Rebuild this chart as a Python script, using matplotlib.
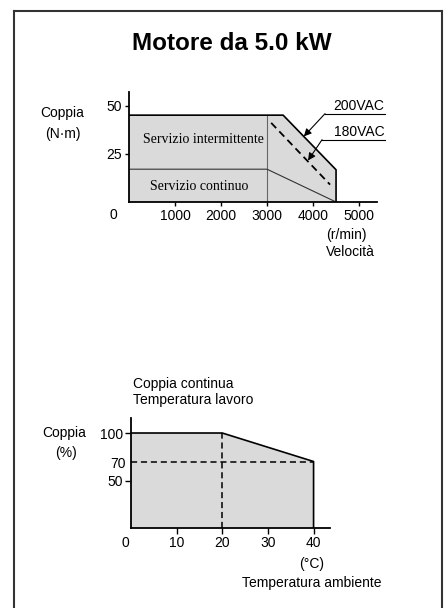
import matplotlib
matplotlib.use("Agg")
import matplotlib.pyplot as plt
from matplotlib.lines import Line2D
import numpy as np

plt.rcParams['font.family'] = ['Liberation Sans', 'DejaVu Sans']

# ---------------- data ----------------
title = "Motore da 5.0 kW"

speed_200 = [0, 3350, 4500, 4500]      # r/min, 200VAC envelope
torque_200 = [45, 45, 16.7, 0]         # N·m
speed_cont = [0, 3000, 4500]           # continuous duty boundary
torque_cont = [17, 17, 0]
speed_180 = [3090, 4370]               # 180VAC dashed slope
torque_180 = [41, 9]
speed_split = 3000

speed_ticks = [1000, 2000, 3000, 4000, 5000]
torque_ticks = [25, 50]

temp = [0, 20, 40, 40]                 # °C
pct = [100, 100, 70, 0]                # %
temp_knee = 20
pct_low = 70
temp_ticks = [10, 20, 30, 40]
pct_ticks = [50, 100]

W, H = 448, 608
fig = plt.figure(figsize=(W / 100, H / 100), dpi=100)


def fx(px):
    return px / W


def fy(py):
    return 1 - py / H


def ftext(px, py, s, **kw):
    fig.text(fx(px), fy(py), s, **kw)


# frame
fc = '#333333'
fig.add_artist(Line2D([fx(14), fx(14)], [fy(11), 0], color=fc, lw=1.5))
fig.add_artist(Line2D([fx(442), fx(442)], [fy(11), 0], color=fc, lw=1.5))
fig.add_artist(Line2D([fx(14), fx(442)], [fy(11), fy(11)], color=fc, lw=1.5))

ftext(232, 50, title, ha='center', va='baseline', fontsize=17.5, fontweight='bold')

gray = '#dadada'
lw_main = 1.2

# ---------------- top chart ----------------
ax1 = fig.add_axes([fx(129), fy(202), (377 - 129) / W, (202 - 92) / H])
ax1.set_xlim(0, 5390)
ax1.set_ylim(0, 57)
for s in ('top', 'right'):
    ax1.spines[s].set_visible(False)
for s in ('left', 'bottom'):
    ax1.spines[s].set_linewidth(1.3)
ax1.patch.set_alpha(0)

ax1.fill(list(speed_200) + [0], list(torque_200) + [0], color=gray, lw=0, zorder=1)
ax1.plot([speed_split, speed_split], [0, torque_200[0]], color='#666666', lw=0.8, zorder=2)
ax1.plot(speed_cont, torque_cont, color='#333333', lw=0.8, zorder=2)
ax1.plot(speed_200, torque_200, color='black', lw=lw_main, zorder=3)
ax1.plot(speed_180, torque_180, color='black', lw=1.3, ls=(0, (4, 2.5)), zorder=3)

ax1.set_xticks(speed_ticks)
ax1.set_xticklabels([str(v) for v in speed_ticks])
ax1.set_yticks(torque_ticks)
ax1.set_yticklabels([str(v) for v in torque_ticks])
ax1.tick_params(length=3, width=1, pad=2, labelsize=10)

ax1.text(1609, 32.3, "Servizio intermittente", family='Liberation Serif',
         fontsize=10, ha='center', va='center')
ax1.text(1522, 7.8, "Servizio continuo", family='Liberation Serif',
         fontsize=10, ha='center', va='center')

# voltage annotations
arrow_kw = dict(arrowstyle='-|>', color='black', lw=0.8, mutation_scale=11,
                shrinkA=0, shrinkB=0)
ax1.annotate("", xy=(3800, 34), xytext=(4261, 45.8), arrowprops=arrow_kw,
             annotation_clip=False)
ax1.plot([4261, 5560], [45.8, 45.8], color='black', lw=0.8, clip_on=False)
ax1.text(4435, 46.3, "200VAC", fontsize=10, ha='left', va='bottom', clip_on=False)
ax1.annotate("", xy=(3891, 21.5), xytext=(4196, 32.3), arrowprops=arrow_kw,
             annotation_clip=False)
ax1.plot([4196, 5560], [32.3, 32.3], color='black', lw=0.8, clip_on=False)
ax1.text(4450, 32.8, "180VAC", fontsize=10, ha='left', va='bottom', clip_on=False)

ftext(113, 215, "0", ha='center', va='center', fontsize=10)
ftext(62, 113, "Coppia", ha='center', va='center', fontsize=10)
ftext(63, 134, "(N·m)", ha='center', va='center', fontsize=10)
ftext(346, 235, "(r/min)", ha='center', va='center', fontsize=10)
ftext(350, 252, "Velocità", ha='center', va='center', fontsize=10)

# ---------------- bottom chart ----------------
ax2 = fig.add_axes([fx(131), fy(528), (330 - 131) / W, (528 - 418) / H])
ax2.set_xlim(0, 43.6)
ax2.set_ylim(0, 115.8)
for s in ('top', 'right'):
    ax2.spines[s].set_visible(False)
for s in ('left', 'bottom'):
    ax2.spines[s].set_linewidth(1.3)
ax2.patch.set_alpha(0)

ax2.fill(list(temp) + [0], list(pct) + [0], color=gray, lw=0, zorder=1)
ax2.plot([0, temp[2]], [pct_low, pct_low], color='black', lw=1.1,
         ls=(0, (4, 2.5)), zorder=2)
ax2.plot([temp_knee, temp_knee], [0, pct[1]], color='black', lw=1.1,
         ls=(0, (4, 2.5)), zorder=2)
ax2.plot(temp, pct, color='black', lw=lw_main, zorder=3)

ax2.set_xticks(temp_ticks)
ax2.set_xticklabels([str(v) for v in temp_ticks])
ax2.set_yticks(pct_ticks)
ax2.set_yticklabels([str(v) for v in pct_ticks])
ax2.tick_params(length=4, width=1, pad=2, labelsize=10)
ax2.text(-1.2, pct_low - 3, str(pct_low), ha='right', va='center', fontsize=10)

ftext(125, 543, "0", ha='center', va='center', fontsize=10)
ftext(133, 384, "Coppia continua", ha='left', va='center', fontsize=10)
ftext(133, 400, "Temperatura lavoro", ha='left', va='center', fontsize=10)
ftext(64, 433, "Coppia", ha='center', va='center', fontsize=10)
ftext(66, 453, "(%)", ha='center', va='center', fontsize=10)
ftext(312, 564, "(°C)", ha='center', va='center', fontsize=10)
ftext(242, 583, "Temperatura ambiente", ha='left', va='center', fontsize=10)

fig.savefig("out.png", dpi=100)
